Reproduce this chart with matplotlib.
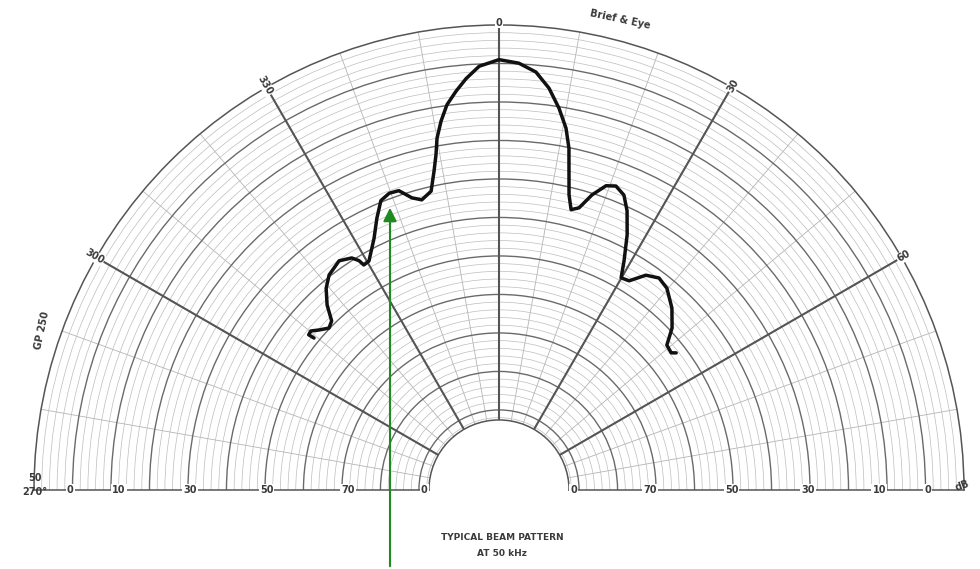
"""Typical beam pattern at 50 kHz - half polar chart redrawn from a scanned datasheet."""
import numpy as np
import matplotlib; matplotlib.use("Agg")
import matplotlib.pyplot as plt

# beam pattern: angle (deg, clockwise from 0) and level (dB)
angle_deg = [-50.6, -50.8, -49.8, -48.4, -46.4, -44.7, -42.9, -40.6, -38.3, -34.9,
             -32.4, -31.4, -31.0, -29.6, -26.4, -24.2, -22.2, -20.3, -18.5, -16.6,
             -14.9, -12.8, -11.5, -10.65, -9.99, -8.93, -7.69, -6.15, -4.58, -2.68,
             0.0, 2.66, 5.05, 7.09, 8.93, 10.49, 11.57, 12.38, 13.35, 14.42,
             15.84, 17.5, 19.39, 21.05, 22.96, 24.64, 26.66, 28.63, 29.92, 31.88,
             34.36, 37.04, 39.75, 43.55, 46.88, 49.2, 51.46, 52.26]
level_db = [-24.3, -23.5, -23.4, -24.1, -24.9, -24.5, -22.6, -20.9, -19.8, -19.1,
            -19.7, -20.5, -21.3, -21.2, -18.9, -16.7, -14.8, -14.3, -14.4, -15.8,
            -16.4, -15.6, -13.1, -11.1, -9.0, -6.9, -4.9, -3.3, -1.8, -0.3,
            0.5, 0.1, -0.9, -2.8, -5.2, -7.6, -10.1, -13.0, -16.0, -17.8,
            -17.3, -15.2, -13.5, -13.1, -13.8, -15.5, -18.3, -21.5, -23.6, -23.4,
            -21.6, -20.9, -21.3, -22.8, -24.6, -26.6, -26.8, -26.3]

major_rings = [-45, -40, -35, -30, -25, -20, -15, -10, -5, 0]
minor_rings = [r for r in range(-46, 5) if r % 5 != 0]
spokes = [-60, -30, 0, 30, 60]
spoke_labels = ["300", "330", "0", "30", "60"]
scale_r = [0.3, -6.0, -15.3, -25.2, -35.8, -45.7]
scale_left = ["0", "10", "30", "50", "70", "0"]
scale_right = ["0", "10", "30", "50", "70", "0"]

R_IN, R_OUT, R_ORIG = -46.3, 5.0, -55.4
ink = "#3a3a3a"

fig = plt.figure(figsize=(9.8, 5.69), dpi=100)
# polar axes box is kept square; the half disk sits in its middle band
cx, cy, R = 499, 79, 465          # centre (px from left / bottom) and outer radius
ax = fig.add_axes([(cx - R)/980, (cy - R/2)/569, 2*R/980, 2*R/569], projection="polar")
ax.set_theta_zero_location("N"); ax.set_theta_direction(-1)
ax.set_thetamin(-90); ax.set_thetamax(90)
ax.set_ylim(R_IN, R_OUT); ax.set_rorigin(R_ORIG)

ax.set_xticks(np.deg2rad(np.arange(-80, 81, 10)))
ax.set_yticks(major_rings); ax.set_yticks(minor_rings, minor=True)
ax.set_xticklabels([]); ax.set_yticklabels([])
ax.tick_params(length=0)
ax.grid(which="major", axis="y", color="#6a6a6a", lw=1.0)
ax.grid(which="minor", axis="y", color="#bdbdbd", lw=0.5)
ax.grid(which="major", axis="x", color="#b5b5b5", lw=0.6)
for s in ax.spines.values():
    s.set_color("#555555"); s.set_linewidth(1.1)

# heavy spokes
for a in spokes:
    ax.plot([np.deg2rad(a)] * 2, [R_IN, R_OUT], color="#555555", lw=1.5, zorder=2)

# spoke labels on the outer ring
for a, lab in zip(spokes, spoke_labels):
    rot = -a if a == 0 else (90 - a if a > 0 else -90 - a)
    ax.text(np.deg2rad(a), 5.3, lab, ha="center", va="center", rotation=rot,
            fontsize=7, fontweight="bold", color=ink, clip_on=False,
            bbox=dict(fc="white", ec="none", pad=0.5), zorder=5)

# scale along the base line
for r, l1, l2 in zip(scale_r, scale_left, scale_right):
    for th, lab in ((-90, l1), (90, l2)):
        ax.text(np.deg2rad(th), r, lab, ha="center", va="center", fontsize=7,
                fontweight="bold", color=ink, clip_on=False,
                bbox=dict(fc="white", ec="none", pad=0.8), zorder=5)

ax.plot(np.deg2rad(angle_deg), level_db, color="#111111", lw=2.5, zorder=4,
        solid_joinstyle="round", solid_capstyle="round")

fig.text(35/980, 1 - 478/569, "50", ha="center", va="center", fontsize=7, fontweight="bold", color=ink)
fig.text(35/980, 1 - 492/569, "270°", ha="center", va="center", fontsize=7, fontweight="bold", color=ink)
fig.text(962/980, 1 - 486/569, "dB", ha="center", va="center", fontsize=7, fontweight="bold",
         color=ink, rotation=20)
fig.text(42/980, 1 - 330/569, "GP 250", ha="center", va="center", fontsize=7, fontweight="bold",
         color=ink, rotation=78)
fig.text(620/980, 1 - 20/569, "Brief & Eye", ha="center", va="center", fontsize=7, fontweight="bold",
         color=ink, rotation=-12)
fig.text(502/980, 1 - 537/569, "TYPICAL BEAM PATTERN", ha="center", va="center", fontsize=6.5,
         fontweight="bold", color=ink)
fig.text(502/980, 1 - 553/569, "AT 50 kHz", ha="center", va="center", fontsize=6.5,
         fontweight="bold", color=ink)

ax.annotate("", xy=(390/980, 1 - 205/569), xycoords="figure fraction",
            xytext=(390/980, 0), textcoords="figure fraction",
            arrowprops=dict(arrowstyle="-|>", color="#1f8a1f", lw=1.5, mutation_scale=20))

fig.savefig("out.png", dpi=100, facecolor="white")
